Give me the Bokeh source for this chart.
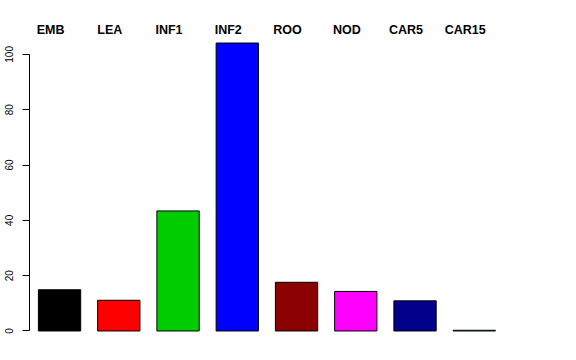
from bokeh.plotting import figure
from bokeh.models import ColumnDataSource, Range1d, FixedTicker, LabelSet
from bokeh.core.properties import value
from bokeh.embed import file_html
from bokeh.resources import INLINE

categories = ["EMB", "LEA", "INF1", "INF2", "ROO", "NOD", "CAR5", "CAR15"]
values = [14.9, 11.1, 43.4, 104.1, 17.6, 14.3, 10.9, 0.25]
colors = ["#000000", "#FF0000", "#00CD00", "#0000FF", "#8B0000", "#FF00FF", "#00008B", "#00FFFF"]
y_ticks = [0, 20, 40, 60, 80, 100]

FONT = "Liberation Sans"

positions = list(range(len(categories)))
ymax = max(values)
pad = 0.04 * ymax
px_per_unit = 311.0 / (ymax + 2 * pad)
frame_h = 342
y_top = -pad + frame_h / px_per_unit

src = ColumnDataSource(dict(x=positions, top=values, color=colors, cat=categories,
                            ly=[ymax + pad - 1.05] * len(categories)))

p = figure(width=576, height=360, output_backend="svg", toolbar_location=None,
           x_range=Range1d(-0.507, len(categories) - 0.49),
           y_range=Range1d(-pad, y_top),
           x_axis_location=None,
           min_border_left=29, min_border_right=72, min_border_top=0, min_border_bottom=18)

p.vbar(x="x", top="top", bottom=0, width=0.714, fill_color="color", line_color="black",
       line_width=1, source=src)

labels = LabelSet(x="x", y="ly", text="cat", source=src, x_offset=-9,
                  text_align="center", text_baseline="alphabetic",
                  text_font=value(FONT), text_font_style="bold",
                  text_font_size="12.5px", text_color="black")
p.add_layout(labels)

ax = p.yaxis[0]
ax.ticker = FixedTicker(ticks=y_ticks)
ax.bounds = (0, 100)
ax.major_tick_out = 7
ax.major_tick_in = 0
ax.minor_tick_line_color = None
ax.major_label_orientation = "vertical"
ax.major_label_standoff = 9
ax.major_label_text_font = FONT
ax.major_label_text_font_size = "10px"
ax.major_label_text_color = "black"
ax.axis_line_color = "black"
ax.major_tick_line_color = "black"

p.xgrid.visible = False
p.ygrid.visible = False
p.outline_line_color = None
p.background_fill_color = "white"
p.border_fill_color = "white"

open("out.html", "w").write(file_html(p, INLINE))
